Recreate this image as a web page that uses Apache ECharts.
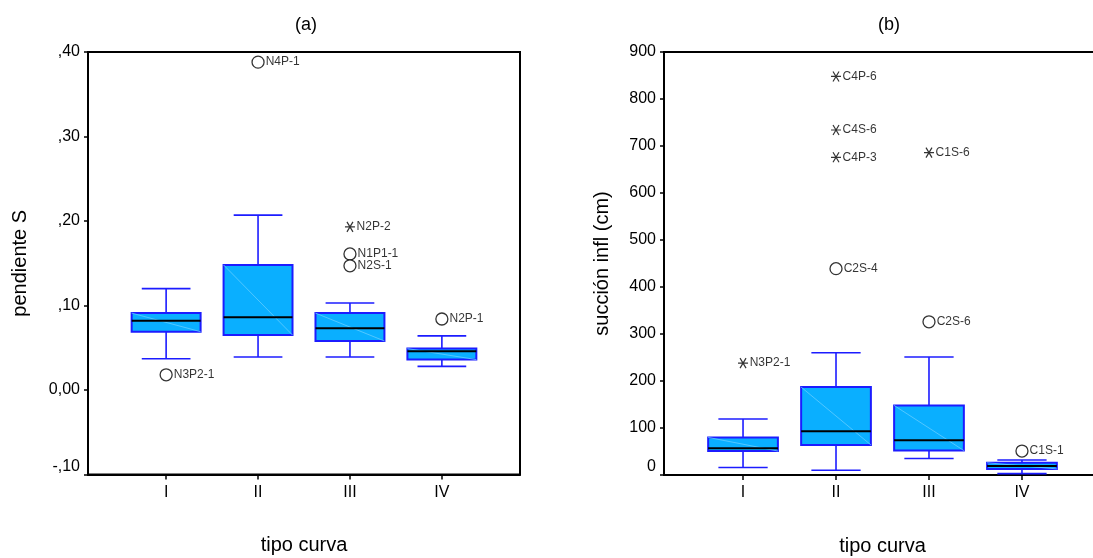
<!DOCTYPE html>
<html>
<head>
<meta charset="utf-8">
<title>tipo curva</title>
<script src="https://cdn.jsdelivr.net/npm/echarts@6/dist/echarts.min.js"></script>
<style>
  html, body { margin: 0; padding: 0; background: #fff; }
  #chart { width: 1093px; height: 558px; }
</style>
</head>
<body>
<div id="chart"></div>
<script>
// categorias (tipo curva)
var categories = ["I", "II", "III", "IV"];

// (a) pendiente S : [x, min, q1, mediana, q3, max]
var slopeBoxes = [
    [1, 0.037, 0.069, 0.082, 0.091, 0.120],
    [2, 0.039, 0.065, 0.086, 0.148, 0.207],
    [3, 0.039, 0.058, 0.073, 0.091, 0.103],
    [4, 0.028, 0.036, 0.046, 0.049, 0.064]
];
var slopeOutliers = [
    [1, 0.018, "N3P2-1"],
    [2, 0.388, "N4P-1"],
    [3, 0.161, "N1P1-1"],
    [3, 0.147, "N2S-1"],
    [4, 0.084, "N2P-1"]
];
var slopeExtremes = [
    [3, 0.193, "N2P-2"]
];

// (b) succion infl (cm)
var suctionBoxes = [
    [1, 16, 51, 57, 80, 119],
    [2, 10, 64, 93, 187, 260],
    [3, 35, 52, 74, 148, 251],
    [4, 3, 13, 19, 26, 32]
];
var suctionOutliers = [
    [2, 439, "C2S-4"],
    [3, 326, "C2S-6"],
    [4, 51, "C1S-1"]
];
var suctionExtremes = [
    [1, 238, "N3P2-1"],
    [2, 848, "C4P-6"],
    [2, 734, "C4S-6"],
    [2, 676, "C4P-3"],
    [3, 686, "C1S-6"]
];

var FONT = "Liberation Sans, Arial, sans-serif";
var tickPos = [1, 2, 3, 4];

function renderBox(params, api) {
    var x = api.value(0);
    var pMin = api.coord([x, api.value(1)]);
    var pQ1 = api.coord([x, api.value(2)]);
    var pMed = api.coord([x, api.value(3)]);
    var pQ3 = api.coord([x, api.value(4)]);
    var pMax = api.coord([x, api.value(5)]);
    var unit = api.size([1, 0])[0];
    var hb = unit * 0.375, hc = unit * 0.265;
    var cx = pMed[0];
    var blue = "#1c1cff";
    var wl = { stroke: blue, lineWidth: 1.6 };
    return {
        type: "group",
        children: [
            { type: "line", shape: { x1: cx, y1: pQ3[1], x2: cx, y2: pMax[1] }, style: wl },
            { type: "line", shape: { x1: cx, y1: pQ1[1], x2: cx, y2: pMin[1] }, style: wl },
            { type: "line", shape: { x1: cx - hc, y1: pMax[1], x2: cx + hc, y2: pMax[1] }, style: wl },
            { type: "line", shape: { x1: cx - hc, y1: pMin[1], x2: cx + hc, y2: pMin[1] }, style: wl },
            { type: "rect", shape: { x: cx - hb, y: pQ3[1], width: hb * 2, height: pQ1[1] - pQ3[1] },
              style: { fill: "#0aafff", stroke: blue, lineWidth: 2 } },
            { type: "line", shape: { x1: cx - hb, y1: pQ3[1], x2: cx + hb, y2: pQ1[1] },
              style: { stroke: "#63cdff", lineWidth: 0.8 } },
            { type: "line", shape: { x1: cx - hb, y1: pMed[1], x2: cx + hb, y2: pMed[1] },
              style: { stroke: "#000", lineWidth: 2 } }
        ]
    };
}

function pointLabel() {
    return {
        show: true, position: "right", distance: 1,
        formatter: function (p) { return p.value[2]; },
        fontFamily: FONT, fontSize: 12, color: "#000"
    };
}

function panelSeries(idx, boxes, outliers, extremes) {
    return [
        { type: "custom", xAxisIndex: idx, yAxisIndex: idx, data: boxes,
          encode: { x: 0, y: [1, 2, 3, 4, 5] }, renderItem: renderBox, clip: false, z: 2 },
        { type: "scatter", xAxisIndex: idx, yAxisIndex: idx, data: outliers,
          symbol: "circle", symbolSize: 12,
          itemStyle: { color: "#fff", borderColor: "#000", borderWidth: 1.3 },
          label: pointLabel(), z: 3 },
        { type: "scatter", xAxisIndex: idx, yAxisIndex: idx, data: extremes,
          symbol: "path://M0,5 L10,5 M2,0 L8,10 M8,0 L2,10", symbolSize: [10, 10],
          itemStyle: { color: "transparent", borderColor: "#000", borderWidth: 1.2 },
          label: pointLabel(), z: 3 }
    ];
}

function xAxisOf(idx) {
    return {
        type: "value", gridIndex: idx, min: 0.15, max: 4.85,
        name: "tipo curva", nameLocation: "middle", nameGap: 61,
        nameTextStyle: { fontFamily: FONT, fontSize: 20, color: "#000" },
        axisLine: { onZero: false, lineStyle: { color: "#000", width: 2 } },
        axisTick: { show: true, length: 5, customValues: tickPos, lineStyle: { color: "#000", width: 1.5 } },
        axisLabel: {
            customValues: tickPos, margin: 10,
            fontFamily: FONT, fontSize: 16, color: "#000",
            formatter: function (v) { return categories[Math.round(v) - 1]; }
        },
        splitLine: { show: false }
    };
}

function yAxisOf(idx, name, min, max, interval, gap, fmt) {
    return {
        type: "value", gridIndex: idx, min: min, max: max, interval: interval,
        name: name, nameLocation: "middle", nameGap: gap,
        nameTextStyle: { fontFamily: FONT, fontSize: 20, color: "#000" },
        axisLine: { show: true, lineStyle: { color: "#000", width: 2 } },
        axisTick: { show: true, length: 4, lineStyle: { color: "#000", width: 1.5 } },
        axisLabel: { margin: 8, fontFamily: FONT, fontSize: 16, color: "#000",
                     verticalAlignMinLabel: "bottom", formatter: fmt },
        splitLine: { show: false }
    };
}

function spssNum(v) {
    if (Math.abs(v) < 1e-9) return "0,00";
    return v.toFixed(2).replace(".", ",").replace(/^(-?)0,/, "$1,");
}

var chart = echarts.init(document.getElementById("chart"));
chart.setOption({
    animation: false,
    backgroundColor: "#fff",
    title: [
        { text: "(a)", left: 301, top: 11, textAlign: "center",
          textStyle: { fontFamily: FONT, fontSize: 18, fontWeight: "normal", color: "#000" } },
        { text: "(b)", left: 884, top: 11, textAlign: "center",
          textStyle: { fontFamily: FONT, fontSize: 18, fontWeight: "normal", color: "#000" } }
    ],
    grid: [
        { left: 88, top: 52, width: 432, height: 422.5, show: true, borderColor: "#000", borderWidth: 2,
          outerBoundsMode: "none" },
        { left: 664, top: 52, width: 437, height: 423, show: true, borderColor: "#000", borderWidth: 2,
          outerBoundsMode: "none" }
    ],
    xAxis: [xAxisOf(0), xAxisOf(1)],
    yAxis: [
        yAxisOf(0, "pendiente S", -0.1, 0.4, 0.1, 58, spssNum),
        yAxisOf(1, "succión infl (cm)", 0, 900, 100, 52, function (v) { return String(v); })
    ],
    series: panelSeries(0, slopeBoxes, slopeOutliers, slopeExtremes)
        .concat(panelSeries(1, suctionBoxes, suctionOutliers, suctionExtremes))
});
</script>
</body>
</html>
